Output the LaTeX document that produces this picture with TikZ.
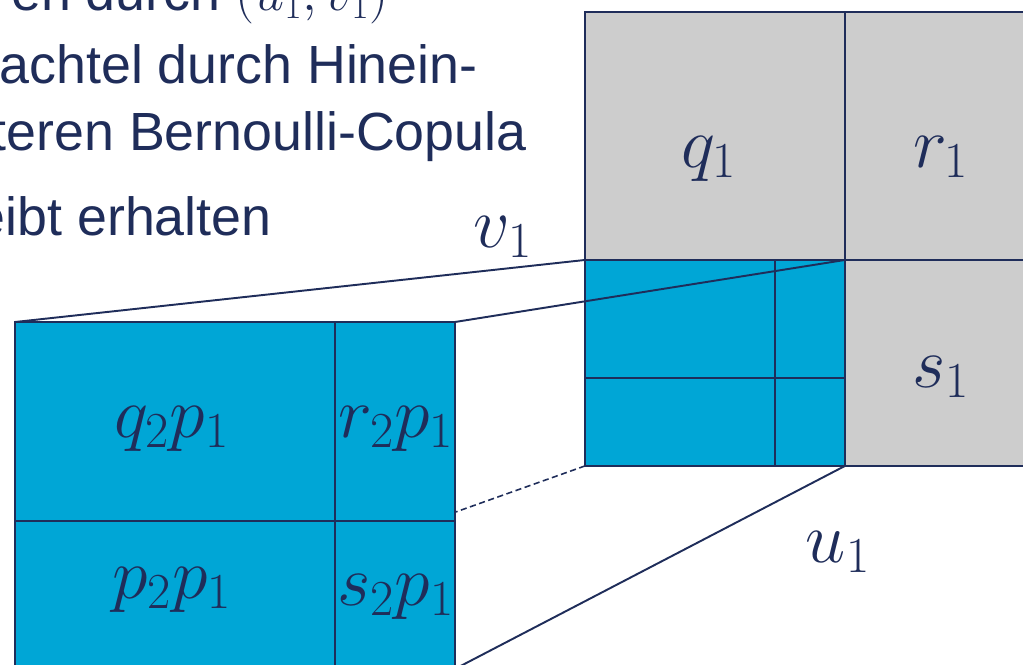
\RequirePackage{fix-cm}
\documentclass[tikz,border=0pt]{standalone}
\usepackage[no-math]{fontspec}
\setmainfont{Liberation Sans}
\usepackage{tikz}
\definecolor{navy}{RGB}{31,45,90}
\definecolor{cellgray}{RGB}{205,205,205}
\definecolor{cellblue}{RGB}{0,166,214}
\usetikzlibrary{positioning,backgrounds}
\tikzset{
    greycell/.style={rectangle, draw=navy, fill=cellgray, line width=1.1pt, inner sep=0pt, outer sep=0pt, anchor=north west},
    bluecell/.style={rectangle, draw=navy, fill=cellblue, line width=1.1pt, inner sep=0pt, outer sep=0pt, anchor=north west},
    lbl/.style={text=navy, inner sep=0pt, anchor=base, font=\fontsize{41}{48}\selectfont},
    txt/.style={text=navy, inner sep=0pt, anchor=base east, font=\fontsize{30.6}{37}\selectfont},
    zoomline/.style={draw=navy, line width=1.1pt},
}

\begin{document}
\begin{tikzpicture}[x=0.02cm, y=-0.02cm]
    \useasboundingbox (0,0) rectangle (1023,664);

    % Text (cut at the left and top border)
    \node[txt] (line1) at (389,10) {en durch $(u_1,v_1)$};
    \node[txt] (line2) at (478,83) {nachtel durch Hinein-};
    \node[txt] (line3) at (527,150) {teren Bernoulli-Copula};
    \node[txt] (line4) at (272,235) {eibt erhalten};

    % Bernoulli copula cells
    \node[greycell, minimum width=5.2cm, minimum height=4.96cm] (cq) at (585,12) {};
    \node[greycell, minimum width=4cm, minimum height=4.96cm] (cr) at (cq.north east) {};
    \node[greycell, minimum width=4cm, minimum height=4.12cm] (cs) at (cr.south west) {};

    % Cell p1, divided again
    \node[bluecell, minimum width=3.8cm, minimum height=2.36cm] (sq) at (cq.south west) {};
    \node[bluecell, minimum width=1.4cm, minimum height=2.36cm] (sr) at (sq.north east) {};
    \node[bluecell, minimum width=3.8cm, minimum height=1.76cm] (sp) at (sq.south west) {};
    \node[bluecell, minimum width=1.4cm, minimum height=1.76cm] (ss) at (sp.north east) {};

    % Enlarged cell p1
    \node[bluecell, minimum width=6.4cm, minimum height=3.98cm] (bq) at (15,322) {};
    \node[bluecell, minimum width=2.4cm, minimum height=3.98cm] (br) at (bq.north east) {};
    \node[bluecell, minimum width=6.4cm, minimum height=2.96cm] (bp) at (bq.south west) {};
    \node[bluecell, minimum width=2.4cm, minimum height=2.96cm] (bs) at (bp.north east) {};

    % Labels
    \node[lbl] (q1) at (709,167) {$q_1$};
    \node[lbl] (r1) at (941,167) {$r_1$};
    \node[lbl] (s1) at (941,387) {$s_1$};
    \node[lbl] (u1) at (838,562) {$u_1$};
    \node[lbl] (v1) at (503,247) {$v_1$};
    \node[lbl] (q2p1) at (172,437) {$q_2p_1$};
    \node[lbl] (r2p1) at (396,437) {$r_2p_1$};
    \node[lbl] (p2p1) at (172,598) {$p_2p_1$};
    \node[lbl] (s2p1) at (396,605) {$s_2p_1$};

    % Zoom lines
    \draw[zoomline] (sq.north west) -- (bq.north west);
    \draw[zoomline] (sr.north east) -- (br.north east);
    \draw[zoomline] (ss.south east) -- (bs.south east);
    \begin{scope}[on background layer]
        \draw[zoomline, line width=0.9pt, dash pattern=on 3.5pt off 2pt] (sp.south west) -- (bp.south west);
    \end{scope}
\end{tikzpicture}
\end{document}
